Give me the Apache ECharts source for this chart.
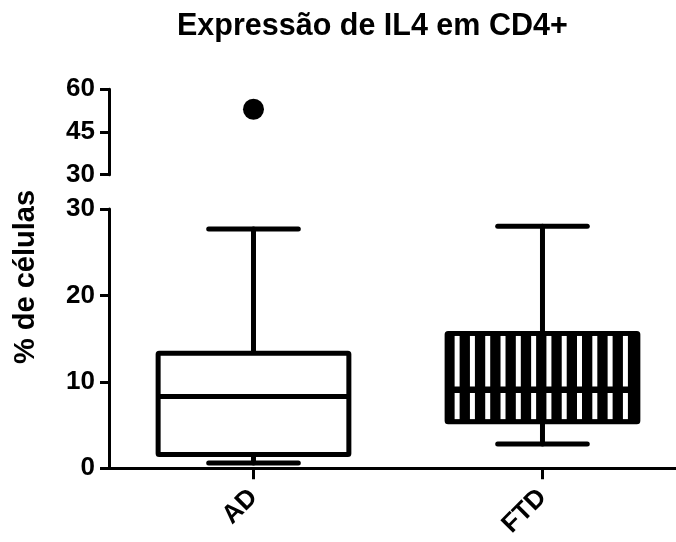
<!DOCTYPE html>
<html>
<head>
<meta charset="utf-8">
<script src="https://cdn.jsdelivr.net/npm/echarts@6/dist/echarts.min.js"></script>
<style>
  html, body { margin: 0; padding: 0; background: #fff; }
  #chart { width: 676px; height: 542px; }
</style>
</head>
<body>
<div id="chart"></div>
<script>
// Groups along the x axis
const categories = ['AD', 'FTD'];
// Five-number summaries per group: [min, Q1, median, Q3, max]
const boxAD = [0.6, 1.6, 8.3, 13.3, 27.7];
const boxFTD = [2.8, 5.4, 9.1, 15.6, 28.0];
// Points beyond the whiskers (AD only)
const outliersAD = [53];
// Tick labels of the two y-axis segments (broken axis)
const upperTicks = [30, 45, 60];
const lowerTicks = [0, 10, 20, 30];

const FONT = 'Liberation Sans, Arial, Helvetica, sans-serif';
const INK = '#000';

const chart = echarts.init(document.getElementById('chart'), null, { renderer: 'canvas' });

// Box + whiskers; the second group gets a black fill with white vertical stripes
function renderBox(params, api) {
  const x = api.value(0);
  const pMin = api.coord([x, api.value(1)]);
  const pQ1 = api.coord([x, api.value(2)]);
  const pMed = api.coord([x, api.value(3)]);
  const pQ3 = api.coord([x, api.value(4)]);
  const pMax = api.coord([x, api.value(5)]);
  const boxW = api.size([0.66, 0])[0];
  const capW = api.size([0.31, 0])[0];
  const cx = pMed[0];
  const left = cx - boxW / 2;
  const striped = params.dataIndex === 1;
  const lw = 5;
  const lineStyle = { stroke: INK, lineWidth: lw, lineCap: 'round', fill: null };

  const children = [
    { type: 'line', shape: { x1: cx, y1: pMax[1], x2: cx, y2: pQ3[1] }, style: lineStyle },
    { type: 'line', shape: { x1: cx, y1: pQ1[1], x2: cx, y2: pMin[1] }, style: lineStyle },
    { type: 'line', shape: { x1: cx - capW / 2, y1: pMax[1], x2: cx + capW / 2, y2: pMax[1] }, style: lineStyle },
    { type: 'line', shape: { x1: cx - capW / 2, y1: pMin[1], x2: cx + capW / 2, y2: pMin[1] }, style: lineStyle },
    {
      type: 'rect',
      shape: { x: left, y: pQ3[1], width: boxW, height: pQ1[1] - pQ3[1], r: 1 },
      style: { fill: striped ? INK : '#fff', stroke: INK, lineWidth: lw, lineJoin: 'round' }
    }
  ];

  if (striped) {
    const top = pQ3[1] + lw / 2;
    const bottom = pQ1[1] - lw / 2;
    const period = 15.3;
    const start = left - lw / 2 + 10;
    for (let i = 0; i < 12; i++) {
      children.push({
        type: 'rect',
        shape: { x: start + i * period, y: top, width: 5, height: bottom - top },
        style: { fill: '#fff' }
      });
    }
  }

  children.push({
    type: 'line',
    shape: { x1: left, y1: pMed[1], x2: left + boxW, y2: pMed[1] },
    style: { stroke: INK, lineWidth: striped ? 6.5 : lw, lineCap: 'butt' }
  });

  return { type: 'group', children: children };
}

const tickLabelStyle = { color: INK, fontFamily: FONT, fontWeight: 'bold', fontSize: 26 };

const option = {
  animation: false,
  backgroundColor: '#fff',
  title: {
    text: 'Expressão de IL4 em CD4+',
    left: 172,
    top: 6,
    textStyle: { color: INK, fontFamily: FONT, fontWeight: 'bold', fontSize: 30.5 }
  },
  grid: [
    { left: 109, top: 89.3, width: 567, height: 85.4 },
    { left: 109, top: 209, width: 567, height: 259.3 }
  ],
  xAxis: [
    { gridIndex: 0, type: 'value', min: -0.5, max: 1.462, show: false },
    {
      gridIndex: 1, type: 'value', min: -0.5, max: 1.462,
      splitLine: { show: false },
      axisLine: { onZero: false, lineStyle: { color: INK, width: 3 } },
      axisTick: { customValues: [0, 1], length: 11, lineStyle: { color: INK, width: 3 } },
      axisLabel: Object.assign({
        customValues: [0, 1],
        rotate: 45,
        margin: 25,
        formatter: v => categories[Math.round(v)]
      }, tickLabelStyle)
    }
  ],
  yAxis: [
    {
      gridIndex: 0, type: 'value', min: 30, max: 60,
      splitLine: { show: false },
      axisLine: { show: true, onZero: false, lineStyle: { color: INK, width: 3 } },
      axisTick: { show: true, customValues: upperTicks, length: 9, lineStyle: { color: INK, width: 3 } },
      axisLabel: Object.assign({ customValues: upperTicks, margin: 14 }, tickLabelStyle)
    },
    {
      gridIndex: 1, type: 'value', min: 0, max: 30,
      splitLine: { show: false },
      axisLine: { show: true, onZero: false, lineStyle: { color: INK, width: 3 } },
      axisTick: { show: true, customValues: lowerTicks, length: 9, lineStyle: { color: INK, width: 3 } },
      axisLabel: Object.assign({ customValues: lowerTicks, margin: 14 }, tickLabelStyle)
    }
  ],
  graphic: [
    {
      type: 'text',
      x: 26, y: 277,
      rotation: Math.PI / 2,
      style: {
        text: '% de células',
        fill: INK,
        font: 'bold 29px ' + FONT,
        align: 'center',
        verticalAlign: 'middle'
      }
    }
  ],
  series: [
    {
      type: 'custom',
      xAxisIndex: 1,
      yAxisIndex: 1,
      clip: false,
      renderItem: renderBox,
      encode: { x: 0, y: [1, 2, 3, 4, 5] },
      data: [
        [0].concat(boxAD),
        [1].concat(boxFTD)
      ]
    },
    {
      type: 'scatter',
      xAxisIndex: 0,
      yAxisIndex: 0,
      symbol: 'circle',
      symbolSize: 21,
      itemStyle: { color: INK, opacity: 1 },
      data: outliersAD.map(v => [0, v])
    }
  ]
};

chart.setOption(option);
</script>
</body>
</html>
